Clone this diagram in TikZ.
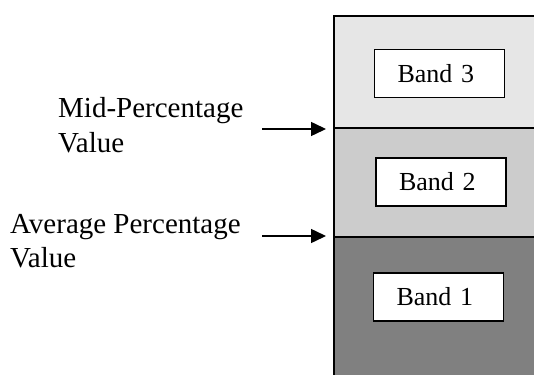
\documentclass[tikz,border=0pt]{standalone}
\usepackage{fontspec}
\setmainfont{Liberation Serif}
\usetikzlibrary{arrows.meta}
\definecolor{bandthree}{HTML}{E6E6E6}
\definecolor{bandtwo}{HTML}{CCCCCC}
\definecolor{bandone}{HTML}{808080}
\begin{document}
\begin{tikzpicture}[x=1pt,y=-1pt,
  lbl/.style={anchor=base west, inner sep=0pt, align=left, font=\fontsize{29}{34}\selectfont},
  bandbox/.style={draw=black, line width=1.5pt, fill=white, minimum width=130pt, minimum height=48pt,
    inner xsep=23pt, inner ysep=0pt, text width=84pt, align=left, font=\fontsize{26}{30}\selectfont},
  pointer/.style={-{Triangle[length=15pt,width=14pt]}, line width=1.5pt},
  edge/.style={line width=2pt}]
\useasboundingbox (0,0) rectangle (534,374);
\fill[white] (-6,-6) rectangle (544,384);
\fill[bandthree] (334,16) rectangle (544,128);
\fill[bandtwo] (334,128) rectangle (544,237);
\fill[bandone] (334,237) rectangle (544,384);
\draw[edge] (544,16) -- (334,16) -- (334,384);
\draw[edge] (334,128) -- (544,128);
\draw[edge] (334,237) -- (544,237);
\node[bandbox] (b3) at (439.5,73.5) {Band 3};
\node[bandbox] (b2) at (441,182) {Band 2};
\node[bandbox] (b1) at (438.5,297) {Band 1};
\node[lbl] (mid) at (58,152) {Mid-Percentage\\Value};
\node[lbl] (avg) at (10,267) {Average Percentage\\Value};
\coordinate (m1) at (262,129);
\coordinate (m2) at (326,129);
\coordinate (a1) at (262,236);
\coordinate (a2) at (326,236);
\draw[pointer] (m1) -- (m2);
\draw[pointer] (a1) -- (a2);
\end{tikzpicture}
\end{document}
